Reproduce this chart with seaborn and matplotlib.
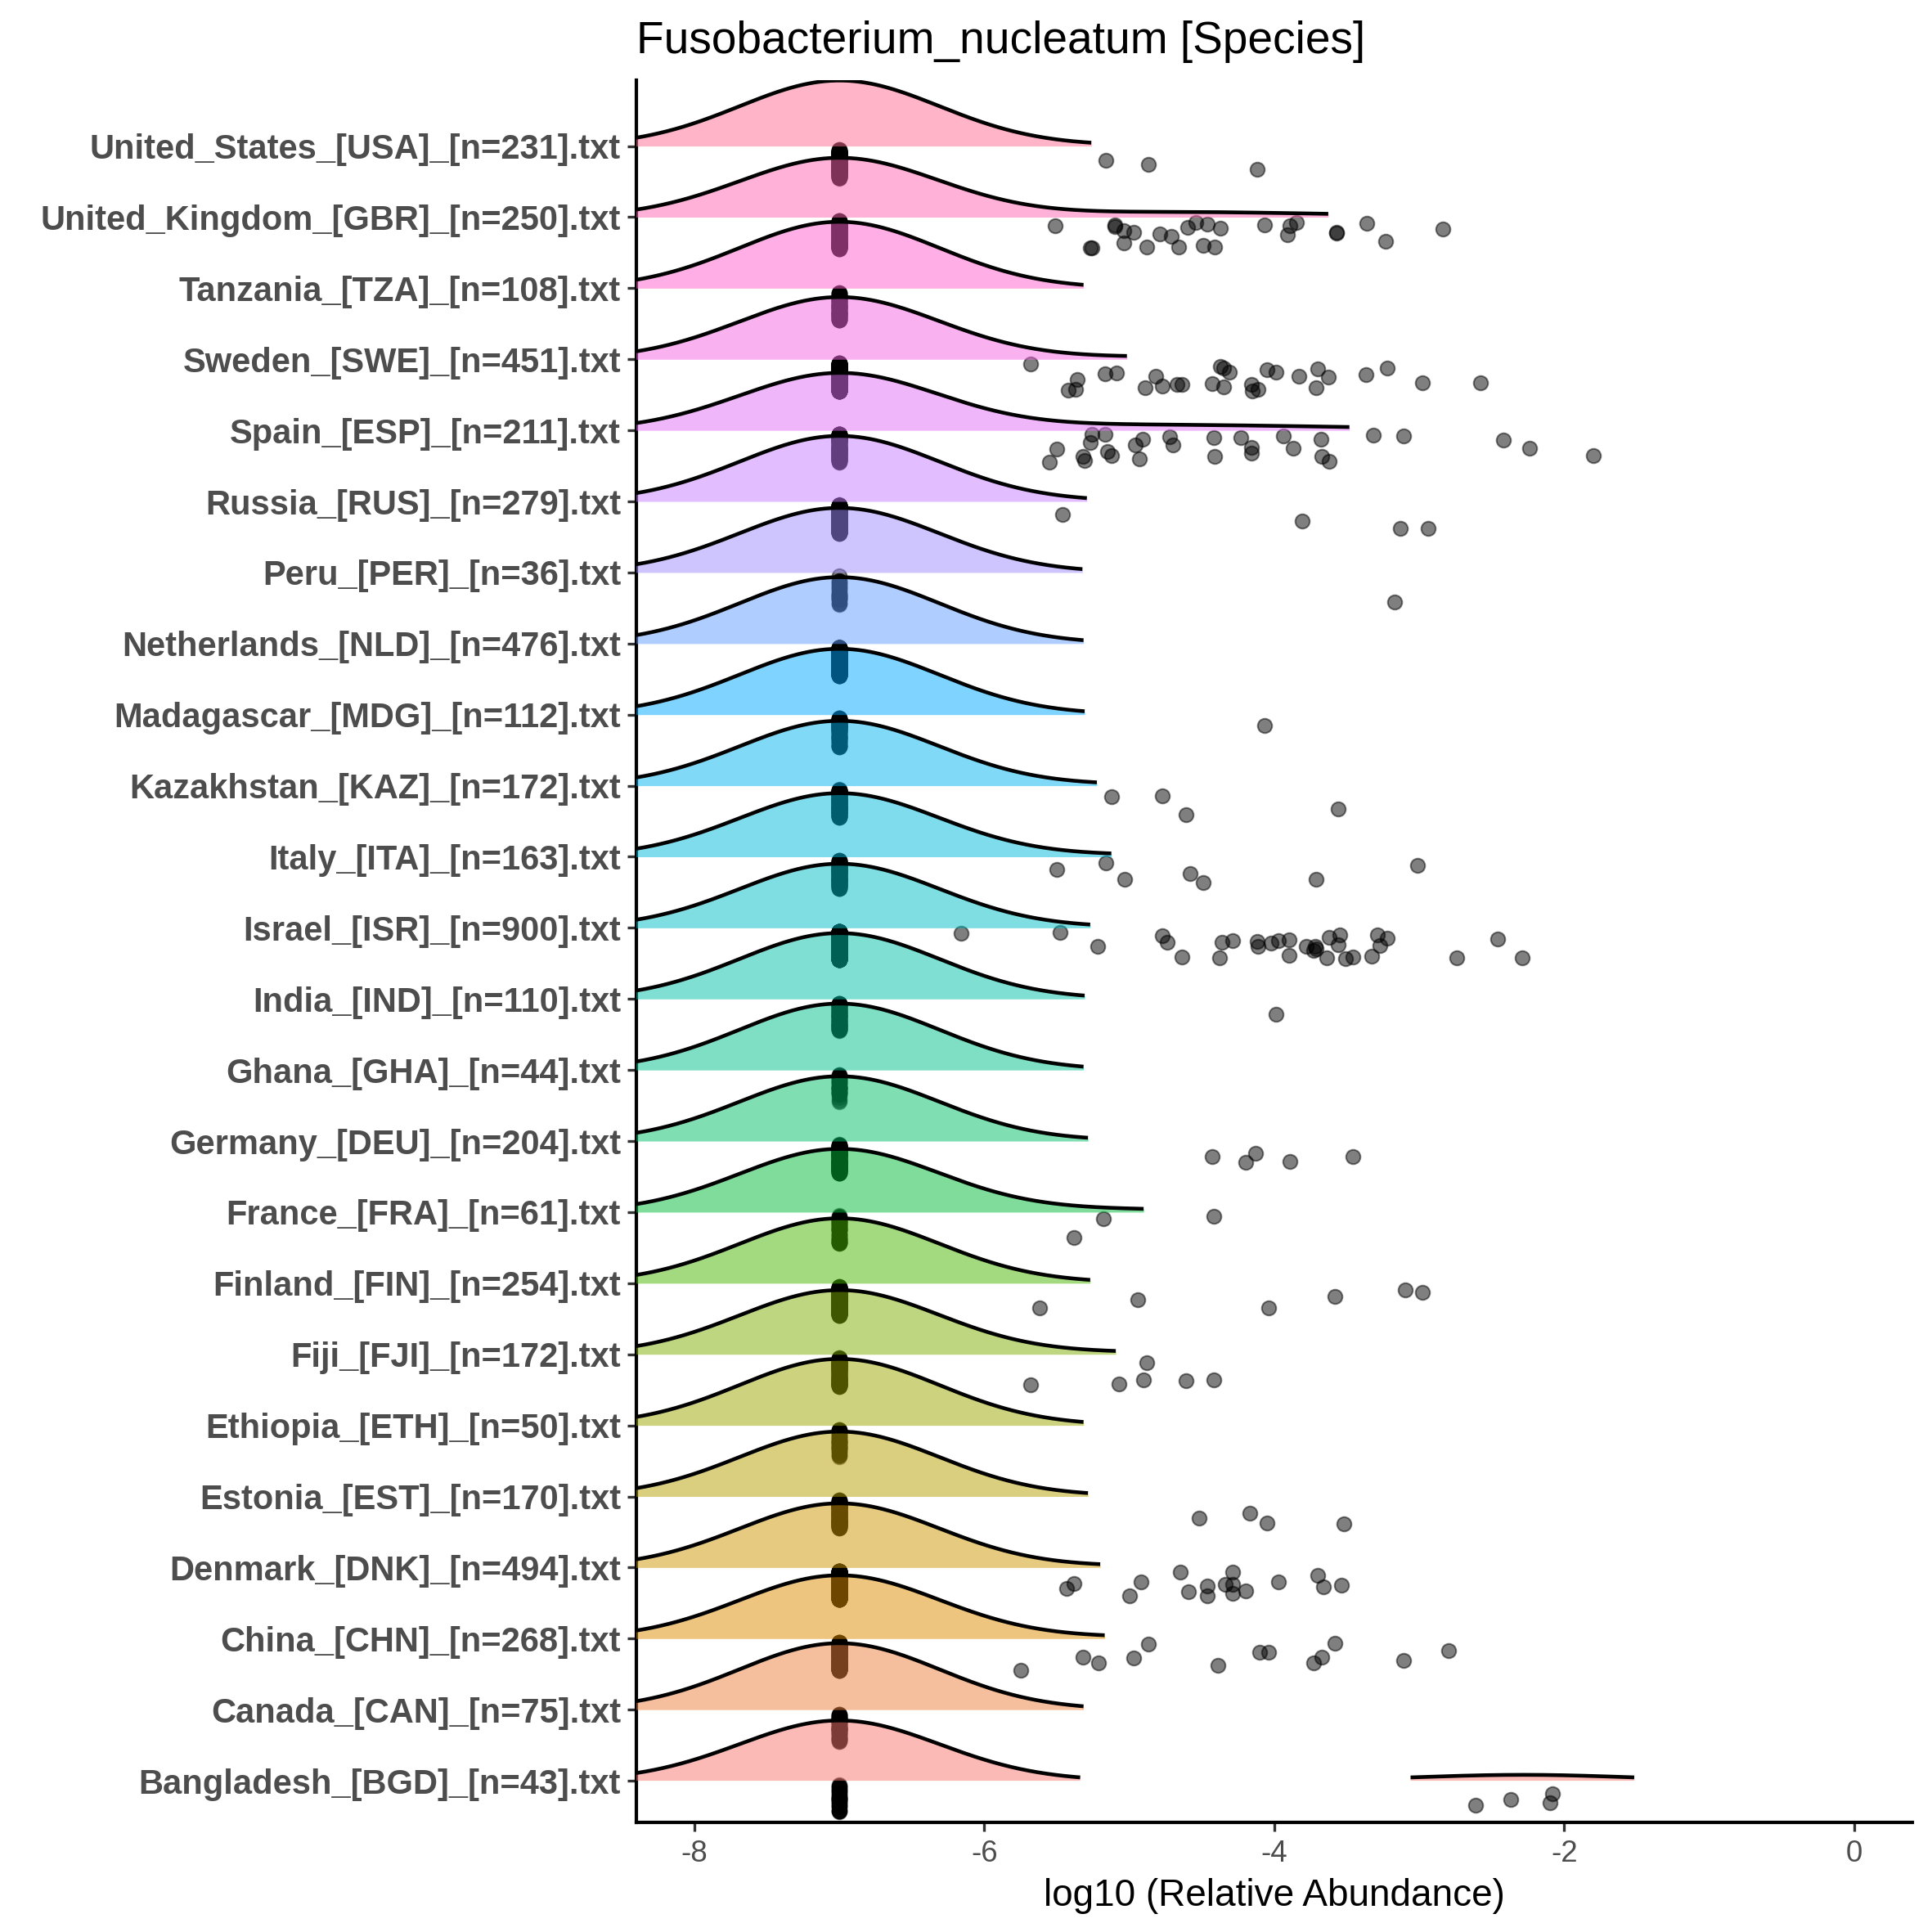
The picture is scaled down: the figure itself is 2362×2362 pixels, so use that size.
import numpy as np
import pandas as pd
import matplotlib
matplotlib.use("Agg")
import matplotlib.pyplot as plt
import seaborn as sns

# ── Data (bottom row first, as the factor levels run) ─────────────────────────
labels = [
    "Bangladesh_[BGD]_[n=43].txt", "Canada_[CAN]_[n=75].txt",
    "China_[CHN]_[n=268].txt", "Denmark_[DNK]_[n=494].txt",
    "Estonia_[EST]_[n=170].txt", "Ethiopia_[ETH]_[n=50].txt",
    "Fiji_[FJI]_[n=172].txt", "Finland_[FIN]_[n=254].txt",
    "France_[FRA]_[n=61].txt", "Germany_[DEU]_[n=204].txt",
    "Ghana_[GHA]_[n=44].txt", "India_[IND]_[n=110].txt",
    "Israel_[ISR]_[n=900].txt", "Italy_[ITA]_[n=163].txt",
    "Kazakhstan_[KAZ]_[n=172].txt", "Madagascar_[MDG]_[n=112].txt",
    "Netherlands_[NLD]_[n=476].txt", "Peru_[PER]_[n=36].txt",
    "Russia_[RUS]_[n=279].txt", "Spain_[ESP]_[n=211].txt",
    "Sweden_[SWE]_[n=451].txt", "Tanzania_[TZA]_[n=108].txt",
    "United_Kingdom_[GBR]_[n=250].txt", "United_States_[USA]_[n=231].txt",
]
n_samples = [43, 75, 268, 494, 170, 50, 172, 254, 61, 204, 44, 110,
             900, 163, 172, 112, 476, 36, 279, 211, 451, 108, 250, 231]

FLOOR = -7.0   # log10 of the pseudo-count given to samples without the species

# detected abundances (log10) per country
bgd = [-2.61, -2.37, -2.10, -2.08]
can = []
chn = [-5.75, -5.32, -5.21, -4.97, -4.87, -4.39, -4.10, -4.04, -3.73, -3.67,
       -3.58, -3.11, -2.80]
dnk = [-5.43, -5.38, -5.00, -4.92, -4.65, -4.59, -4.46, -4.46, -4.34, -4.29,
       -4.29, -4.29, -4.20, -3.97, -3.70, -3.66, -3.54]
est = [-4.52, -4.17, -4.05, -3.52]
eth = []
fji = [-5.68, -5.07, -4.90, -4.88, -4.61, -4.42]
fin = [-5.62, -4.94, -4.04, -3.58, -3.10, -2.98]
fra = [-5.38, -5.18, -4.42]
deu = [-4.43, -4.20, -4.13, -3.89, -3.46]
gha = []
ind = [-3.99]
isr = [-6.16, -5.48, -5.22, -4.77, -4.74, -4.64, -4.38, -4.36, -4.29, -4.12,
       -4.11, -4.02, -3.97, -3.90, -3.90, -3.78, -3.73, -3.72, -3.71, -3.64,
       -3.62, -3.56, -3.55, -3.51, -3.46, -3.33, -3.29, -3.27, -3.22, -2.74,
       -2.46, -2.29]
ita = [-5.50, -5.16, -5.03, -4.58, -4.49, -3.71, -3.01]
kaz = [-5.12, -4.77, -4.61, -3.56]
mdg = [-4.07]
nld = []
per = [-3.17]
rus = [-5.46, -3.81, -3.13, -2.94]
esp = [-5.55, -5.50, -5.32, -5.31, -5.27, -5.26, -5.17, -5.15, -5.12, -4.96,
       -4.93, -4.91, -4.72, -4.70, -4.42, -4.41, -4.23, -4.16, -4.16, -3.94,
       -3.87, -3.68, -3.67, -3.62, -3.32, -3.11, -2.42, -2.24, -1.80]
swe = [-5.68, -5.42, -5.37, -5.36, -5.17, -5.09, -4.89, -4.82, -4.77, -4.67,
       -4.64, -4.43, -4.37, -4.35, -4.35, -4.31, -4.16, -4.15, -4.11, -4.05,
       -3.99, -3.83, -3.71, -3.70, -3.63, -3.37, -3.22, -2.98, -2.58]
tza = []
gbr = [-5.51, -5.27, -5.26, -5.10, -5.10, -5.04, -5.04, -4.97, -4.88, -4.79,
       -4.71, -4.66, -4.60, -4.54, -4.49, -4.46, -4.41, -4.37, -4.07, -3.91,
       -3.89, -3.85, -3.57, -3.57, -3.36, -3.23, -2.84]
usa = [-5.16, -4.87, -4.12]

detected = [bgd, can, chn, dnk, est, eth, fji, fin, fra, deu, gha, ind,
            isr, ita, kaz, mdg, nld, per, rus, esp, swe, tza, gbr, usa]

# ── Style ─────────────────────────────────────────────────────────────────────
BW = 0.69          # kernel bandwidth
REL_MIN = 0.05     # ridges below this share of the tallest peak are dropped
RIDGE_H = 0.935    # tallest ridge height, in row units
PT_OFFSET = 0.25   # points sit below their ridge baseline
GREY30 = "#4D4D4D"


def hcl_hex(h, c=100.0, l=65.0):
    """ggplot2 hue palette colour (polar LUV -> sRGB)."""
    hr = np.deg2rad(h)
    u, v = c * np.cos(hr), c * np.sin(hr)
    Y = ((l + 16) / 116) ** 3
    xn, yn, zn = 0.95047, 1.0, 1.08883
    un = 4 * xn / (xn + 15 * yn + 3 * zn)
    vn = 9 * yn / (xn + 15 * yn + 3 * zn)
    up = u / (13 * l) + un
    vp = v / (13 * l) + vn
    X = Y * 9 * up / (4 * vp)
    Z = Y * (12 - 3 * up - 20 * vp) / (4 * vp)
    M = np.array([[3.240479, -1.537150, -0.498535],
                  [-0.969256, 1.875992, 0.041556],
                  [0.055648, -0.204043, 1.057311]])
    rgb = M @ np.array([X, Y, Z])
    rgb = np.where(rgb <= 0.0031308, 12.92 * rgb,
                   1.055 * np.abs(rgb) ** (1 / 2.4) - 0.055)
    return tuple(np.clip(rgb, 0, 1))


n_groups = len(labels)
colors = [hcl_hex(15 + 360 * j / n_groups) for j in range(n_groups)]

sns.set_style("ticks")
plt.rcParams["font.family"] = ["Liberation Sans", "DejaVu Sans"]

# ── Long table of every sample ────────────────────────────────────────────────
rows = []
for k, (lab, n, vals) in enumerate(zip(labels, n_samples, detected)):
    all_vals = [FLOOR] * (n - len(vals)) + list(vals)
    for v in all_vals:
        rows.append({"group": lab, "value": v, "pos": k - PT_OFFSET})
df = pd.DataFrame(rows)

fig = plt.figure(figsize=(2362 / 300, 2362 / 300), dpi=300)
ax = fig.add_axes([0.3294, 0.0567, 0.6604, 0.9019])

# ── Jittered points ───────────────────────────────────────────────────────────
np.random.seed(7)
sns.stripplot(data=df, x="value", y="pos", orient="h", native_scale=True,
              jitter=0.2, color="black", alpha=0.5, size=4.2,
              linewidth=0.5, edgecolor="black", ax=ax, zorder=1)

# ── Density ridges ────────────────────────────────────────────────────────────
grid = np.linspace(-8.7, 0.5, 1200)
dens = []
for lab in labels:
    v = df.loc[df["group"] == lab, "value"].to_numpy()
    k = np.exp(-0.5 * ((grid[:, None] - v[None, :]) / BW) ** 2)
    dens.append(k.sum(axis=1) / (len(v) * BW * np.sqrt(2 * np.pi)))
dens = np.array(dens)
rel = dens / dens.max()

for k in range(n_groups - 1, -1, -1):
    keep = rel[k] >= REL_MIN
    top = k + rel[k] * RIDGE_H
    z = 3 + (n_groups - k)
    ax.fill_between(grid, k, top, where=keep, color=colors[k], alpha=0.5,
                    linewidth=0, zorder=z)
    ax.plot(grid, np.where(keep, top, np.nan), color="black", lw=1.1,
            zorder=z + 0.5, solid_capstyle="butt")

# ── Axes ──────────────────────────────────────────────────────────────────────
ax.set_xlim(-8.4, 0.4)
ax.set_ylim(-0.587, n_groups - 1 + 0.93)
ax.set_xticks([-8, -6, -4, -2, 0])
ax.set_xticklabels(["-8", "-6", "-4", "-2", "0"], fontsize=8.8, color=GREY30)
ax.set_yticks(range(n_groups))
ax.set_yticklabels(labels, fontsize=10, fontweight="bold", color=GREY30)
ax.tick_params(axis="both", length=2.75, width=0.8, color="#333333")
ax.tick_params(axis="y", pad=1.8)
ax.tick_params(axis="x", pad=2.2)
ax.set_ylabel("")
ax.set_xlabel("log10 (Relative Abundance)", fontsize=11, color="black",
              labelpad=3)
ax.set_title("Fusobacterium_nucleatum [Species]", loc="left", fontsize=13.2,
             pad=7.8, color="black")
sns.despine(ax=ax)
for side in ("left", "bottom"):
    ax.spines[side].set_linewidth(1.0)
    ax.spines[side].set_color("black")
ax.grid(False)

fig.savefig("out.png", dpi=300, facecolor="white")
